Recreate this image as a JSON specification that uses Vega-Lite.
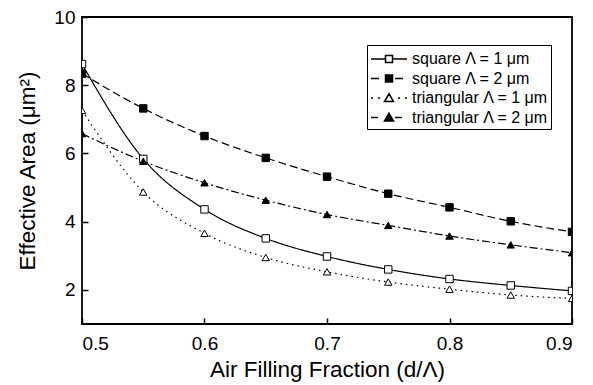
{
  "$schema": "https://vega.github.io/schema/vega-lite/v6.json",
  "width": 490,
  "height": 307,
  "autosize": {"type": "none"},
  "padding": {"left": 82, "top": 17, "right": 21, "bottom": 61},
  "background": "white",
  "config": {
    "font": "Liberation Sans",
    "view": {"stroke": "black", "strokeWidth": 1.8},
    "axis": {
      "grid": false,
      "domain": false,
      "tickColor": "black",
      "tickWidth": 1.5,
      "tickSize": -6,
      "labelFont": "Liberation Sans",
      "labelFontSize": 19,
      "labelColor": "black",
      "titleFont": "Liberation Sans",
      "titleFontSize": 22.5,
      "titleFontWeight": "normal",
      "titleColor": "black"
    },
    "legend": {
      "title": null,
      "orient": "none",
      "strokeColor": "black",
      "padding": 3,
      "symbolSize": 400,
      "symbolOffset": 8,
      "labelOffset": 12,
      "labelFont": "Liberation Sans",
      "labelFontSize": 16,
      "labelColor": "black",
      "rowPadding": 0.5
    }
  },
  "data": {
    "values": [
      {"x": 0.50, "y": 8.62, "series": "square Λ = 1 μm"},
      {"x": 0.55, "y": 5.84, "series": "square Λ = 1 μm"},
      {"x": 0.60, "y": 4.36, "series": "square Λ = 1 μm"},
      {"x": 0.65, "y": 3.51, "series": "square Λ = 1 μm"},
      {"x": 0.70, "y": 2.98, "series": "square Λ = 1 μm"},
      {"x": 0.75, "y": 2.60, "series": "square Λ = 1 μm"},
      {"x": 0.80, "y": 2.32, "series": "square Λ = 1 μm"},
      {"x": 0.85, "y": 2.13, "series": "square Λ = 1 μm"},
      {"x": 0.90, "y": 1.97, "series": "square Λ = 1 μm"},
      {"x": 0.50, "y": 8.34, "series": "square Λ = 2 μm"},
      {"x": 0.55, "y": 7.32, "series": "square Λ = 2 μm"},
      {"x": 0.60, "y": 6.51, "series": "square Λ = 2 μm"},
      {"x": 0.65, "y": 5.87, "series": "square Λ = 2 μm"},
      {"x": 0.70, "y": 5.32, "series": "square Λ = 2 μm"},
      {"x": 0.75, "y": 4.82, "series": "square Λ = 2 μm"},
      {"x": 0.80, "y": 4.42, "series": "square Λ = 2 μm"},
      {"x": 0.85, "y": 4.01, "series": "square Λ = 2 μm"},
      {"x": 0.90, "y": 3.70, "series": "square Λ = 2 μm"},
      {"x": 0.50, "y": 7.26, "series": "triangular Λ = 1 μm"},
      {"x": 0.55, "y": 4.87, "series": "triangular Λ = 1 μm"},
      {"x": 0.60, "y": 3.66, "series": "triangular Λ = 1 μm"},
      {"x": 0.65, "y": 2.95, "series": "triangular Λ = 1 μm"},
      {"x": 0.70, "y": 2.53, "series": "triangular Λ = 1 μm"},
      {"x": 0.75, "y": 2.23, "series": "triangular Λ = 1 μm"},
      {"x": 0.80, "y": 2.02, "series": "triangular Λ = 1 μm"},
      {"x": 0.85, "y": 1.85, "series": "triangular Λ = 1 μm"},
      {"x": 0.90, "y": 1.75, "series": "triangular Λ = 1 μm"},
      {"x": 0.50, "y": 6.58, "series": "triangular Λ = 2 μm"},
      {"x": 0.55, "y": 5.77, "series": "triangular Λ = 2 μm"},
      {"x": 0.60, "y": 5.14, "series": "triangular Λ = 2 μm"},
      {"x": 0.65, "y": 4.63, "series": "triangular Λ = 2 μm"},
      {"x": 0.70, "y": 4.21, "series": "triangular Λ = 2 μm"},
      {"x": 0.75, "y": 3.89, "series": "triangular Λ = 2 μm"},
      {"x": 0.80, "y": 3.58, "series": "triangular Λ = 2 μm"},
      {"x": 0.85, "y": 3.32, "series": "triangular Λ = 2 μm"},
      {"x": 0.90, "y": 3.09, "series": "triangular Λ = 2 μm"}
    ]
  },
  "encoding": {
    "x": {
      "field": "x",
      "type": "quantitative",
      "scale": {"domain": [0.5, 0.9], "nice": false, "zero": false},
      "axis": {"values": [0.5, 0.6, 0.7, 0.8, 0.9], "format": ".1f", "title": "Air Filling Fraction (d/Λ)", "labelPadding": 16, "titlePadding": 5}
    },
    "y": {
      "field": "y",
      "type": "quantitative",
      "scale": {"domain": [1, 10], "nice": false, "zero": false},
      "axis": {"values": [2, 4, 6, 8, 10], "title": "Effective Area (μm²)", "labelPadding": 13, "titlePadding": 14}
    }
  },
  "resolve": {"scale": {"shape": "independent", "fill": "independent"}, "legend": {"shape": "independent", "fill": "independent"}},
  "layer": [
    {
      "mark": {"type": "line", "interpolate": "monotone", "color": "black", "strokeWidth": 1.2, "clip": true},
      "encoding": {
        "detail": {"field": "series"},
        "strokeDash": {
          "field": "series",
          "type": "nominal",
          "scale": {
            "domain": ["square Λ = 2 μm", "square Λ = 1 μm", "triangular Λ = 2 μm", "triangular Λ = 1 μm"],
            "range": [[8, 4], [1, 0], [8, 3, 2, 3], [1.5, 4]]
          },
          "legend": null
        }
      }
    },
    {
      "mark": {"type": "point", "filled": true, "stroke": "black", "strokeWidth": 1, "size": 55, "opacity": 1, "clip": true},
      "encoding": {
        "fill": {
          "condition": {"test": "indexof(datum.series, 'Λ = 2') >= 0", "value": "black"},
          "value": "white"
        },
        "shape": {
          "condition": {"test": "indexof(datum.series, 'square') >= 0", "value": "square"},
          "value": "triangle-up"
        }
      }
    },
    {
      "transform": [{"filter": "false"}],
      "mark": {"type": "point", "filled": true, "stroke": "black", "opacity": 1},
      "encoding": {
        "shape": {
          "field": "series",
          "type": "nominal",
          "scale": {
            "domain": ["square Λ = 1 μm", "square Λ = 2 μm", "triangular Λ = 1 μm", "triangular Λ = 2 μm"],
            "range": [
              "M-1.8,0H-0.35M0.35,0H1.8M-0.35,-0.35H0.35V0.35H-0.35Z",
              "M-1.8,0H-1.0M-0.35,-0.35H0.35V0.35H-0.35ZM0.6,0H1.4",
              "M-1.8,0H-1.6M-1.1,0H-0.9M-0.45,0.35L0,-0.42L0.45,0.35ZM0.9,0H1.1M1.6,0H1.8",
              "M-1.8,0H-1.1M-0.45,0.35L0,-0.42L0.45,0.35ZM0.6,0H1.3"
            ]
          },
          "legend": {
            "legendX": 285, "legendY": 28, "zindex": 1, "fillColor": "white",
            "encode": {
              "legend": {"fill": {"value": "white"}},
              "symbols": {"stroke": {"value": "black"}, "strokeWidth": {"value": 1.2}}
            }
          }
        },
        "fill": {
          "field": "series",
          "type": "nominal",
          "scale": {
            "domain": ["square Λ = 1 μm", "square Λ = 2 μm", "triangular Λ = 1 μm", "triangular Λ = 2 μm"],
            "range": ["white", "black", "white", "black"]
          },
          "legend": {
            "legendX": 285, "legendY": 28, "zindex": 1, "fillColor": "white",
            "encode": {
              "legend": {"fill": {"value": "white"}},
              "symbols": {"stroke": {"value": "black"}, "strokeWidth": {"value": 1.2}}
            }
          }
        }
      }
    }
  ]
}
